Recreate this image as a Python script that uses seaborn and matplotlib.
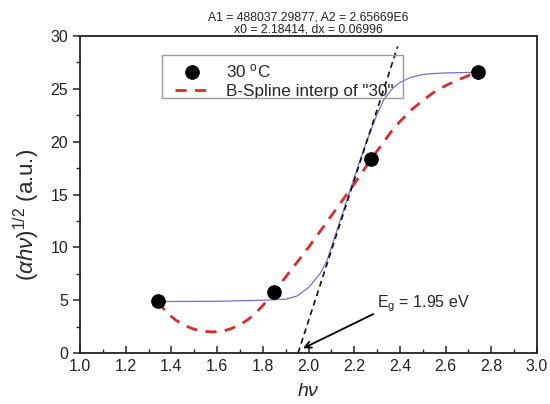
import numpy as np
import pandas as pd
import matplotlib
matplotlib.use("Agg")
import matplotlib.pyplot as plt
from matplotlib.ticker import MultipleLocator, FormatStrFormatter
from matplotlib.patches import Rectangle
import seaborn as sns

# measured points
hv = [1.34, 1.85, 2.274, 2.74]
ahv = [4.9, 5.8, 18.35, 26.6]

# B-spline curve
spline_x = [1.34, 1.38, 1.42, 1.46, 1.50, 1.55, 1.58, 1.62, 1.66, 1.70, 1.73,
            1.76, 1.80, 1.85, 1.90, 1.95, 2.00, 2.05, 2.10, 2.15, 2.20, 2.274,
            2.32, 2.36, 2.40, 2.45, 2.50, 2.55, 2.60, 2.65, 2.70, 2.74]
spline_y = [4.9, 3.8, 3.1, 2.6, 2.25, 2.05, 2.0, 2.05, 2.3, 2.7, 3.1,
            3.6, 4.5, 5.8, 7.2, 8.6, 10.0, 11.5, 13.0, 14.5, 16.0, 18.35,
            19.7, 20.9, 21.9, 23.0, 23.9, 24.7, 25.3, 25.8, 26.25, 26.6]

# Boltzmann fit curve
fit_x = [1.34, 1.60, 1.80, 1.90, 1.95, 2.00, 2.05, 2.08, 2.10, 2.15, 2.20,
         2.25, 2.30, 2.33, 2.37, 2.40, 2.45, 2.50, 2.55, 2.60, 2.74]
fit_y = [4.88, 4.90, 5.0, 5.1, 5.4, 6.2, 7.5, 8.7, 10.0, 13.3, 16.6,
         19.8, 22.6, 24.0, 25.1, 25.6, 26.1, 26.35, 26.45, 26.5, 26.57]

# tangent line used for the band gap
tan_x = [1.954, 2.39]
tan_y = [0.0, 29.0]

sns.set_theme(style="ticks")
plt.rcParams['font.family'] = ['Liberation Sans', 'DejaVu Sans']
plt.rcParams['mathtext.fontset'] = 'custom'
plt.rcParams['mathtext.rm'] = 'Liberation Sans'
plt.rcParams['mathtext.it'] = 'Liberation Sans:italic'

fig, ax = plt.subplots(figsize=(5.5, 4.04), dpi=100)
fig.subplots_adjust(left=0.1455, right=0.9764, top=0.911, bottom=0.126)

pts = pd.DataFrame({'hv': hv, 'ahv': ahv})
spl = pd.DataFrame({'x': spline_x, 'y': spline_y})
fit = pd.DataFrame({'x': fit_x, 'y': fit_y})

sns.lineplot(data=fit, x='x', y='y', ax=ax, color='#7070d8', lw=0.9, sort=True)
sns.lineplot(data=spl, x='x', y='y', ax=ax, color='#d82c2c', lw=2.0,
             label='B-Spline interp of "30"', sort=True)
ax.lines[-1].set_dashes([4, 3])
ax.plot(tan_x, tan_y, color='#111111', lw=1.2, ls=(0, (3.5, 2.5)))
sns.scatterplot(data=pts, x='hv', y='ahv', ax=ax, color='black', s=95,
                edgecolor='black', label='30 $^{\\mathrm{o}}$C', zorder=5)

ax.annotate('E$_{\\mathrm{g}}$ = 1.95 eV', xy=(1.976, 0.45), xytext=(2.298, 4.35),
            fontsize=11.5, ha='left', va='baseline',
            arrowprops=dict(arrowstyle='->', color='black', lw=1.3,
                            shrinkA=0, shrinkB=0, relpos=(-0.03, 0.0)))

ax.set_xlim(1.0, 3.0)
ax.set_ylim(0, 30)
ax.xaxis.set_major_locator(MultipleLocator(0.2))
ax.xaxis.set_minor_locator(MultipleLocator(0.1))
ax.yaxis.set_major_locator(MultipleLocator(5))
ax.yaxis.set_minor_locator(MultipleLocator(2.5))
ax.xaxis.set_major_formatter(FormatStrFormatter('%.1f'))
ax.tick_params(axis='x', which='major', direction='in', length=5, width=1.1,
               labelsize=11.5, pad=4, colors='#222222', labelcolor='#222222')
ax.tick_params(axis='x', which='minor', direction='in', length=3, width=1.0,
               colors='#222222')
ax.tick_params(axis='y', which='major', direction='out', length=5, width=1.1,
               labelsize=11.5, colors='#222222', labelcolor='#222222')
ax.tick_params(axis='y', which='minor', direction='out', length=3, width=1.0,
               colors='#222222')
for s in ax.spines.values():
    s.set_linewidth(1.3)
    s.set_color('#222222')

ax.set_xlabel('$h\\nu$', fontsize=14)
ax.xaxis.set_label_coords(0.5, -0.095)
ax.set_ylabel('$(\\alpha h\\nu)^{1/2}$ (a.u.)', fontsize=16)
ax.yaxis.set_label_coords(-0.083, 0.435)
ax.set_title('A1 = 488037.29877, A2 = 2.65669E6\nx0 = 2.18414, dx = 0.06996',
             fontsize=8.8, pad=2, linespacing=1.0, color='#222222')

# legend frame drawn as its own box, the text runs over its right edge
ax.add_patch(Rectangle((0.179, 0.803), 0.528, 0.137, transform=ax.transAxes,
                       fill=False, edgecolor='#9a9a9a', lw=1.0, zorder=6))
h, l = ax.get_legend_handles_labels()
leg = ax.legend(h[::-1], l[::-1], loc='upper left', bbox_to_anchor=(0.207, 0.918),
                fontsize=12.3, frameon=False, handlelength=2.0, borderpad=0,
                labelspacing=0.22, handletextpad=1.0, borderaxespad=0)

fig.savefig('out.png', dpi=100)
